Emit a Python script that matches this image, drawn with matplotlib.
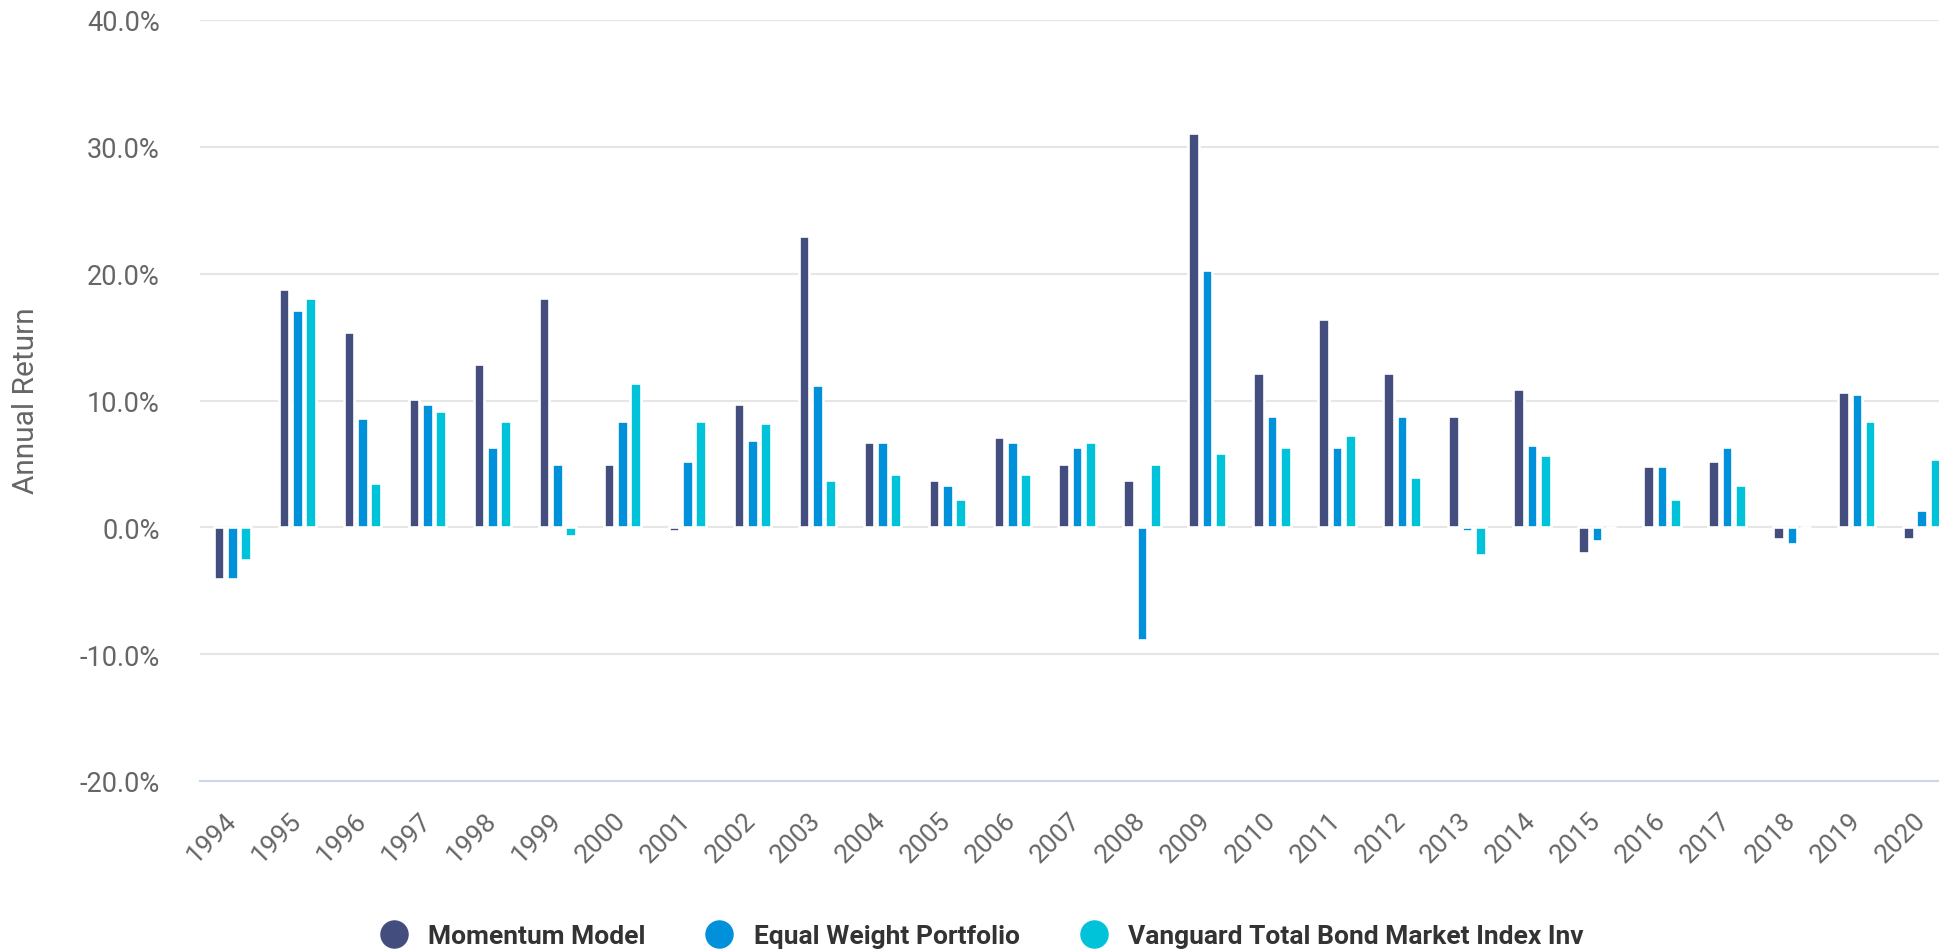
import matplotlib
matplotlib.use("Agg")
import matplotlib.pyplot as plt
import matplotlib.transforms as mtransforms
from matplotlib.lines import Line2D
import numpy as np

plt.rcParams["font.family"] = ["Roboto", "DejaVu Sans"]

years = [str(y) for y in range(1994, 2021)]

momentum_model = [-4.1, 18.8, 15.4, 10.1, 12.9, 18.1, 5.0, -0.3, 9.7, 23.0,
                  6.7, 3.7, 7.1, 5.0, 3.7, 31.1, 12.2, 16.4, 12.2, 8.8,
                  10.9, -2.0, 4.8, 5.2, -0.9, 10.7, -0.9]
equal_weight = [-4.1, 17.1, 8.6, 9.7, 6.3, 5.0, 8.4, 5.2, 6.9, 11.2,
                6.7, 3.3, 6.7, 6.3, -8.9, 20.3, 8.8, 6.3, 8.8, -0.3,
                6.5, -1.1, 4.8, 6.3, -1.3, 10.5, 1.4]
vanguard_bond = [-2.6, 18.1, 3.5, 9.2, 8.4, -0.7, 11.4, 8.4, 8.2, 3.7,
                 4.2, 2.2, 4.2, 6.7, 5.0, 5.9, 6.3, 7.3, 4.0, -2.2,
                 5.7, 0.0, 2.2, 3.3, 0.0, 8.4, 5.4]

series_names = ["Momentum Model", "Equal Weight Portfolio",
                "Vanguard Total Bond Market Index Inv"]
series_colors = ["#444e7e", "#0091da", "#00c3d9"]
y_ticks = [-20, -10, 0, 10, 20, 30, 40]

W, H, DPI = 1940, 953, 100
fig = plt.figure(figsize=(W / DPI, H / DPI), dpi=DPI)
fig.patch.set_facecolor("white")

left_px, right_px, top_px, bottom_px = 200, 1940, 21, 782
ax = fig.add_axes([left_px / W, 1 - bottom_px / H,
                   (right_px - left_px) / W, (bottom_px - top_px) / H])

x = np.arange(len(years))
step = 0.205
bar_w = 0.164
for i, (vals, col, name) in enumerate(zip(
        [momentum_model, equal_weight, vanguard_bond], series_colors, series_names)):
    ax.bar(x + (i - 1) * step, vals, width=bar_w, color=col,
           edgecolor="white", linewidth=1.9, zorder=3, label=name)

ax.set_xlim(-0.5, 26.28)
ax.set_ylim(-20, 40)
ax.set_yticks(y_ticks)
ax.set_yticklabels([f"{v:.1f}%" for v in y_ticks])
ax.set_xticks(x)
ax.set_xticklabels([])

for sp in ["top", "right", "left"]:
    ax.spines[sp].set_visible(False)
ax.spines["bottom"].set_color("#ccd6eb")
ax.spines["bottom"].set_linewidth(1.5)
ax.spines["bottom"].set_zorder(2)

for v in y_ticks[1:]:
    ax.axhline(v, color="#e6e6e6", linewidth=1.5, zorder=1)

ax.tick_params(axis="y", length=0, pad=29, labelsize=19.5, labelcolor="#666666")
ax.tick_params(axis="x", length=0)

# rotated year labels, anchored at their right end just below the axis
offset = mtransforms.ScaledTranslation(0 / DPI, -35 / DPI, fig.dpi_scale_trans)
label_trans = ax.get_xaxis_transform() + offset
for xi, yr in zip(x, years):
    ax.text(xi, 0, yr, transform=label_trans, rotation=45,
            rotation_mode="anchor", ha="right", va="center",
            fontsize=19, color="#666666", clip_on=False)

fig.text(26 / W, 1 - 401 / H, "Annual Return", rotation=90,
         ha="center", va="center", fontsize=21.5, color="#666666")

handles = [Line2D([], [], linestyle="none", marker="o", markersize=19.5,
                  markerfacecolor=c, markeredgecolor=c) for c in series_colors]
leg = fig.legend(handles, series_names, loc="center", ncol=3,
                 bbox_to_anchor=(982 / W, 1 - 937 / H), frameon=False,
                 handlelength=1.0, handletextpad=0.8, columnspacing=2.3,
                 prop={"weight": "bold", "size": 19})
for t in leg.get_texts():
    t.set_color("#333333")

fig.savefig("out.png", dpi=DPI, facecolor="white")
